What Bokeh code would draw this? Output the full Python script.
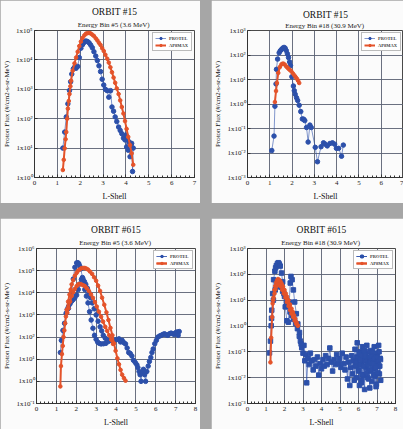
from bokeh.plotting import figure
from bokeh.models import Range1d, FixedTicker, CustomJSTickFormatter, Title, Row, Column
from bokeh.embed import file_html
from bokeh.resources import INLINE

# ---------------- data ----------------
# Panel 1: ORBIT #15, Energy Bin #5 (3.6 MeV)
p1_prot_L = [1.24, 1.32, 1.39, 1.46, 1.53, 1.58, 1.63, 1.70, 1.75, 1.82, 1.89, 1.96, 2.03, 2.10, 2.15,
             2.20, 2.25, 2.32, 2.39, 2.46, 2.53, 2.60, 2.68, 2.75, 2.82, 2.89, 2.96, 3.03, 3.10, 3.18,
             3.25, 3.33, 3.39, 3.46, 3.53, 3.60, 3.68, 3.75, 3.82, 3.89, 3.96, 4.00, 4.03, 4.07, 4.10,
             4.14, 4.18, 4.22, 4.25, 4.29, 4.32]
p1_prot_F = [10, 35, 115, 320, 910, 1800, 3300, 5000, 5600, 5200, 6000, 12000, 25000, 33000, 38000,
             42000, 44000, 42000, 38000, 32000, 26000, 19000, 13500, 9500, 6300, 4000, 2200, 1400, 1000, 900,
             540, 900, 250, 180, 115, 80, 52, 40, 31, 22, 19, 28, 11, 20, 8.5,
             16, 5.1, 12.6, 14.5, 1.6, 10]
p1_ap8_L = [1.24, 1.28, 1.32, 1.36, 1.39, 1.43, 1.46, 1.50, 1.53, 1.57, 1.60, 1.67, 1.75, 1.82, 1.89,
            1.96, 2.03, 2.10, 2.18, 2.25, 2.32, 2.39, 2.46, 2.53, 2.60, 2.68, 2.75, 2.82, 2.89, 2.96,
            3.03, 3.10, 3.18, 3.25, 3.32, 3.39, 3.46, 3.53, 3.60, 3.68, 3.75, 3.82, 3.89, 3.96, 4.03,
            4.10, 4.18, 4.25, 4.32]
p1_ap8_F = [1.8, 4, 9.8, 20, 35, 100, 220, 400, 690, 1260, 1950, 4300, 7600, 12000, 19000,
            29500, 42000, 56000, 68000, 78000, 81000, 83000, 79000, 72000, 65000, 54000, 46000, 38000, 32000, 25000,
            20000, 15000, 11000, 8100, 5600, 3800, 2500, 1660, 1070, 690, 420, 250, 150, 83, 45,
            24, 12.6, 6.6, 2.7]

# Panel 2: ORBIT #15, Energy Bin #18 (30.9 MeV)
p2_prot_L = [1.09, 1.19, 1.23, 1.28, 1.30, 1.35, 1.42, 1.47, 1.52, 1.58, 1.64, 1.69, 1.74, 1.79, 1.84,
             1.89, 1.93, 1.99, 2.06, 2.10, 2.14, 2.20, 2.25, 2.32, 2.39, 2.46, 2.52, 2.57, 2.65, 2.72,
             2.80, 2.86, 3.04, 3.14, 3.30, 3.41, 3.49, 3.58, 3.70, 3.81, 3.91, 3.99, 4.09, 4.22, 4.30]
p2_prot_F = [0.0126, 0.049, 0.81, 6.6, 26, 68, 123, 148, 166, 190, 204, 190, 151, 112, 79,
             52, 37, 13, 5.4, 3.5, 2.5, 1.8, 1.4, 0.89, 0.49, 0.245, 0.24, 0.21, 0.11, 0.028,
             0.138, 0.11, 0.017, 0.0044, 0.018, 0.026, 0.023, 0.0195, 0.0245, 0.026, 0.023, 0.0155, 0.0155, 0.0074, 0.021]
p2_ap8_L = [1.23, 1.28, 1.32, 1.38, 1.45, 1.52, 1.57, 1.62, 1.68, 1.74, 1.79, 1.84, 1.90, 1.96, 2.03,
            2.10, 2.16, 2.22, 2.27, 2.32]
p2_ap8_F = [1.2, 3.4, 7.2, 18.6, 32, 41, 44, 44, 40, 34, 31, 27.5, 24.5, 22, 18,
            15, 12.6, 10.7, 8.9, 7.2]

# Panel 3: ORBIT #615, Energy Bin #5 (3.6 MeV)
p3_protA_L = [1.20, 1.25, 1.33, 1.41, 1.49, 1.55, 1.61, 1.69, 1.77, 1.85, 1.93, 2.02, 2.08, 2.13, 2.18,
              2.23, 2.31, 2.37, 2.43, 2.51, 2.59, 2.67, 2.75, 2.84, 2.92, 3.00, 3.08, 3.16, 3.25, 3.37,
              3.49, 3.61, 3.74, 3.82, 3.90, 4.02, 4.15, 4.23, 4.31, 4.40, 4.48, 4.56, 4.64, 4.72, 4.80,
              4.88, 4.97, 5.05, 5.10, 5.16, 5.21, 5.26, 5.32, 5.38, 5.44, 5.49, 5.55, 5.62, 5.68, 5.75,
              5.81, 5.87, 5.95, 6.03, 6.11, 6.20, 6.28, 6.36, 6.44, 6.52, 6.61, 6.69, 6.77, 6.85, 6.93,
              7.00, 7.07, 7.13, 7.18]
p3_protA_F = [20, 71, 200, 420, 1200, 1800, 2400, 4200, 10000, 42000, 141000, 224000, 229000, 204000, 158000,
              120000, 49000, 25000, 14000, 7100, 3500, 1400, 590, 250, 120, 79, 59, 52, 49, 50,
              52, 63, 71, 66, 71, 76, 83, 60, 71, 56, 49, 32, 20, 18, 14,
              8.9, 7.1, 5.6, 4.2, 2.8, 2.0, 1.0, 2.5, 3.5, 2.0, 1.0, 2.8, 4.9, 7.9, 12,
              20, 29, 50, 71, 100, 112, 120, 132, 141, 126, 120, 141, 151, 141, 132,
              158, 170, 120, 178]
p3_protB_L = [1.61, 1.69, 1.77, 1.85, 1.93, 2.02, 2.10, 2.18, 2.26, 2.34, 2.41, 2.48, 2.56, 2.64, 2.72,
              2.80, 2.90, 3.00, 3.10, 3.20, 3.28, 3.36, 3.46, 3.57]
p3_protB_F = [2000, 3200, 4200, 5000, 6000, 7900, 14000, 25000, 40000, 42000, 32000, 24000, 16000, 10000, 6000,
              3500, 1900, 1000, 520, 290, 190, 120, 89, 71]
p3_ap8A_L = [1.20, 1.23, 1.28, 1.32, 1.36, 1.40, 1.44, 1.48, 1.52, 1.59, 1.66, 1.72, 1.77, 1.85, 1.93,
             2.02, 2.10, 2.18, 2.26, 2.35, 2.43, 2.51, 2.59, 2.69, 2.80, 2.90, 3.00, 3.10, 3.20, 3.30,
             3.41, 3.52, 3.62, 3.72, 3.82, 3.90, 3.98, 4.07, 4.15, 4.23, 4.31, 4.40, 4.48]
p3_ap8A_F = [0.59, 4.9, 17, 40, 100, 200, 420, 850, 1700, 4000, 8300, 14000, 24000, 38000, 59000,
             79000, 100000, 115000, 129000, 132000, 132000, 123000, 112000, 91000, 71000, 50000, 35000, 21000, 12000, 6000,
             2900, 1300, 590, 260, 120, 52, 24, 11, 5.9, 3.3, 2.0, 1.4, 1.07]
p3_ap8B_L = [1.55, 1.61, 1.69, 1.77, 1.85, 1.93, 2.02, 2.10, 2.18, 2.26, 2.35, 2.43, 2.53, 2.64, 2.74,
             2.84, 2.94, 3.03, 3.14, 3.25, 3.35, 3.46, 3.56, 3.66, 3.76, 3.85]
p3_ap8B_F = [1260, 2000, 4000, 7100, 10700, 15000, 20000, 24000, 25000, 24000, 22000, 20000, 16000, 12000, 8500,
             5900, 3800, 2400, 1400, 830, 500, 290, 190, 120, 76, 49]

# Panel 4: ORBIT #615, Energy Bin #18 (30.9 MeV)
p4_protA_L = [1.19, 1.24, 1.28, 1.31, 1.36, 1.41, 1.48, 1.52, 1.56, 1.62, 1.67, 1.72, 1.77, 1.84, 1.90,
              1.97, 2.04, 2.13, 2.21, 2.26, 2.31, 2.35, 2.41, 2.48, 2.55, 2.64, 2.72, 2.81, 2.86, 2.93,
              3.00, 3.05, 3.10, 3.15, 3.20, 3.27, 3.33, 3.40, 3.47, 3.55, 3.62, 3.70, 3.78, 3.85, 3.92,
              4.00, 4.08, 4.15, 4.22, 4.30, 4.38, 4.45, 4.52, 4.60, 4.68, 4.75, 4.82, 4.90, 4.97, 5.05,
              5.12, 5.20, 5.27, 5.33, 5.40, 5.47, 5.53, 5.58, 5.63, 5.68, 5.72, 5.77, 5.81, 5.85, 5.89,
              5.93, 5.97, 6.01, 6.05, 6.09, 6.13, 6.17, 6.21, 6.25, 6.29, 6.33, 6.37, 6.41, 6.45, 6.49,
              6.53, 6.57, 6.61, 6.65, 6.69, 6.73, 6.77, 6.81, 6.85, 6.89, 6.93, 6.97, 7.01, 7.05, 7.09,
              7.13, 7.17, 7.20]
p4_protA_F = [0.091, 0.26, 1.02, 4.1, 18, 62, 132, 178, 219, 263, 282, 251, 209, 112, 52,
              18, 5.5, 1.6, 1.4, 8.5, 46, 83, 62, 25, 8.5, 3.0, 1.2, 0.56, 0.26, 0.145,
              0.089, 0.178, 0.045, 0.079, 0.0063, 0.056, 0.032, 0.089, 0.045, 0.02, 0.05, 0.028, 0.063, 0.0126, 0.035,
              0.022, 0.05, 0.028, 0.071, 0.032, 0.056, 0.141, 0.04, 0.018, 0.05, 0.032, 0.079, 0.035, 0.056, 0.025,
              0.089, 0.035, 0.02, 0.063, 0.0089, 0.04, 0.005, 0.025, 0.071, 0.014, 0.045, 0.0079, 0.126, 0.028, 0.01,
              0.224, 0.056, 0.018, 0.005, 0.1, 0.032, 0.0079, 0.158, 0.045, 0.0126, 0.0035, 0.079, 0.025, 0.178, 0.01,
              0.05, 0.018, 0.004, 0.112, 0.035, 0.0071, 0.063, 0.022, 0.158, 0.0112, 0.04, 0.0056, 0.089, 0.028, 0.178,
              0.014, 0.056, 0.0079]
p4_protB_L = [1.30, 1.40, 1.50, 1.60, 1.70, 1.80, 1.90, 2.00, 2.10, 2.20, 2.30, 2.40, 2.50, 2.60, 2.70,
              2.80, 2.90]
p4_protB_F = [2.0, 10, 25, 40, 42, 32, 22, 14, 8.9, 5.6, 3.5, 2.5, 1.8, 1.26, 0.79,
              0.4, 0.2]
p4_protC_L = [5.86, 5.91, 5.99, 6.03, 6.07, 6.11, 6.19, 6.23, 6.27, 6.31, 6.39, 6.43, 6.47, 6.51, 6.59,
              6.63, 6.67, 6.71, 6.79, 6.83, 6.87, 6.91, 6.99, 7.03, 7.07, 7.11, 7.15, 7.19, 6.15, 6.35,
              6.55, 6.75, 6.95]
p4_protC_F = [0.04, 0.063, 0.02, 0.089, 0.032, 0.05, 0.013, 0.071, 0.028, 0.11, 0.045, 0.016, 0.063, 0.032, 0.1,
              0.04, 0.02, 0.071, 0.035, 0.013, 0.056, 0.025, 0.063, 0.016, 0.045, 0.1, 0.028, 0.05, 0.0063, 0.071,
              0.0089, 0.1, 0.0045]
p4_ap8A_L = [1.24, 1.28, 1.33, 1.39, 1.46, 1.50, 1.55, 1.60, 1.65, 1.72, 1.79, 1.85, 1.92, 2.00, 2.07,
             2.14, 2.21, 2.30, 2.38, 2.45, 2.52, 2.58, 2.65, 2.72]
p4_ap8A_F = [0.039, 0.35, 2.2, 10, 25, 35, 48, 59, 66, 60, 52, 43, 34, 25, 18,
             13.5, 10, 6.8, 4.7, 3.5, 2.6, 1.9, 1.4, 1.05]
p4_ap8B_L = [1.36, 1.41, 1.46, 1.51, 1.56, 1.62, 1.67, 1.74, 1.80, 1.88, 1.96, 2.05, 2.13, 2.22, 2.30,
             2.38, 2.47, 2.55, 2.64, 2.72]
p4_ap8B_F = [7.4, 12.6, 18, 26, 34, 40, 42, 38, 34, 25, 18, 12.6, 8.5, 5.9, 4.1,
             3.0, 2.2, 1.6, 1.2, 1.02]

orbit_titles = ["ORBIT #15", "ORBIT #15", "ORBIT #615", "ORBIT #615"]
energy_titles = ["Energy Bin #5  (3.6 MeV)", "Energy Bin #18  (30.9 MeV)",
                 "Energy Bin #5  (3.6 MeV)", "Energy Bin #18  (30.9 MeV)"]
x_label = "L-Shell"
y_label = "Proton Flux (#/cm2-s-sr-MeV)"
series_names = ["PROTEL", "AP8MAX"]

# ---------------- style ----------------
BLUE = "#2c50aa"
RED = "#e4532a"
GRID = "#596072"
FONT = "Liberation Serif"
PANEL_BG = "#fbfbfb"
PAGE_GRAY = "#a6a6a6"

fmt_code = """
const e = Math.round(Math.log10(tick));
const m = {'-':'\u207b','0':'\u2070','1':'\u00b9','2':'\u00b2','3':'\u00b3','4':'\u2074',
           '5':'\u2075','6':'\u2076','7':'\u2077','8':'\u2078','9':'\u2079'};
return '1x10' + String(e).split('').map(c => m[c]).join('');
"""


def make_panel(idx, width, height, mbl, mbr, mbt, mbb, x_end, e_lo, e_hi, sub_standoff,
               prot_series, ap8_series, prot_marker):
    p = figure(width=width, height=height,
               x_range=Range1d(0, x_end), y_range=Range1d(10.0 ** e_lo, 10.0 ** e_hi),
               y_axis_type="log", output_backend="svg", toolbar_location=None,
               min_border_left=mbl, min_border_right=mbr, min_border_top=mbt, min_border_bottom=mbb,
               background_fill_color=PANEL_BG, border_fill_color=PANEL_BG,
               outline_line_color="#4a4a4a", title=orbit_titles[idx])
    p.title.align = "center"
    p.title.text_font = FONT
    p.title.text_font_size = "9.5px"
    p.title.text_font_style = "normal"
    p.title.text_color = "#111111"
    p.title.standoff = 0
    p.add_layout(Title(text=energy_titles[idx], align="center", text_font=FONT,
                       text_font_size="7px", text_font_style="normal",
                       text_color="#222222", standoff=sub_standoff), "above")

    p.xaxis.ticker = FixedTicker(ticks=list(range(0, x_end + 1)),
                                 minor_ticks=[i * 0.2 for i in range(0, x_end * 5 + 1)])
    p.yaxis.ticker = FixedTicker(ticks=[10.0 ** e for e in range(e_lo, e_hi + 1)], minor_ticks=[])
    p.yaxis.formatter = CustomJSTickFormatter(code=fmt_code)

    for ax in (p.xaxis[0], p.yaxis[0]):
        ax.axis_line_color = "#333333"
        ax.major_tick_line_color = "#333333"
        ax.minor_tick_line_color = "#333333"
        ax.major_tick_in = 3
        ax.major_tick_out = 0
        ax.minor_tick_in = 2
        ax.minor_tick_out = 0
        ax.major_label_text_font = FONT
        ax.major_label_text_font_size = "7px"
        ax.major_label_text_color = "#222222"
        ax.axis_label_text_font = FONT
        ax.axis_label_text_font_style = "normal"
        ax.axis_label_text_color = "#111111"
    p.xaxis.axis_label = x_label
    p.xaxis.axis_label_text_font_size = "8px"
    p.xaxis.major_label_standoff = 3
    p.xaxis.axis_label_standoff = 4
    p.yaxis.axis_label = y_label
    p.yaxis.axis_label_text_font_size = "7px"
    p.yaxis.major_label_standoff = 2
    p.yaxis.axis_label_standoff = 2

    p.xgrid.grid_line_color = GRID
    p.ygrid.grid_line_color = GRID
    p.xgrid.grid_line_width = 0.9
    p.ygrid.grid_line_width = 0.9

    for L, F in prot_series:
        p.line(L, F, line_color=BLUE, line_width=0.7, line_alpha=0.85, legend_label=series_names[0])
        p.scatter(L, F, marker=prot_marker, size=4.5, fill_color=BLUE, line_color=BLUE,
                  legend_label=series_names[0])
    for L, F in ap8_series:
        p.line(L, F, line_color=RED, line_width=2.0, legend_label=series_names[1])
        p.scatter(L, F, marker="circle", size=3.6, fill_color=RED, line_color=RED,
                  legend_label=series_names[1])

    lg = p.legend[0]
    lg.location = "top_right"
    lg.margin = 2
    lg.padding = 2
    lg.spacing = 1
    lg.label_text_font = FONT
    lg.label_text_font_size = "4.5px"
    lg.label_text_font_style = "bold"
    lg.label_height = 6
    lg.glyph_height = 6
    lg.glyph_width = 11
    lg.label_standoff = 3
    lg.border_line_color = "#777777"
    lg.border_line_width = 0.8
    lg.background_fill_color = "white"
    lg.background_fill_alpha = 1.0
    return p


p1 = make_panel(0, 200, 203, 33, 6, 30, 24, 7, 0, 5, 4,
                [(p1_prot_L, p1_prot_F)], [(p1_ap8_L, p1_ap8_F)], "circle")
p2 = make_panel(1, 192, 203, 32, 0, 26, 23, 7, -3, 3, 1,
                [(p2_prot_L, p2_prot_F)], [(p2_ap8_L, p2_ap8_F)], "circle")
p3 = make_panel(2, 200, 211, 34, 5, 30, 26, 8, -1, 6, 4,
                [(p3_protA_L, p3_protA_F), (p3_protB_L, p3_protB_F)],
                [(p3_ap8A_L, p3_ap8A_F), (p3_ap8B_L, p3_ap8B_F)], "circle")
p4 = make_panel(3, 192, 211, 32, 8, 30, 26, 8, -3, 3, 4,
                [(p4_protA_L, p4_protA_F), (p4_protB_L, p4_protB_F), (p4_protC_L, p4_protC_F)],
                [(p4_ap8A_L, p4_ap8A_F), (p4_ap8B_L, p4_ap8B_F)], "square")

top_row = Row(children=[p1, p2], spacing=11)
bottom_row = Row(children=[p3, p4], spacing=11)
page = Column(children=[top_row, bottom_row], spacing=15,
              styles={"background-color": PAGE_GRAY})

open("out.html", "w").write(file_html(page, INLINE))
